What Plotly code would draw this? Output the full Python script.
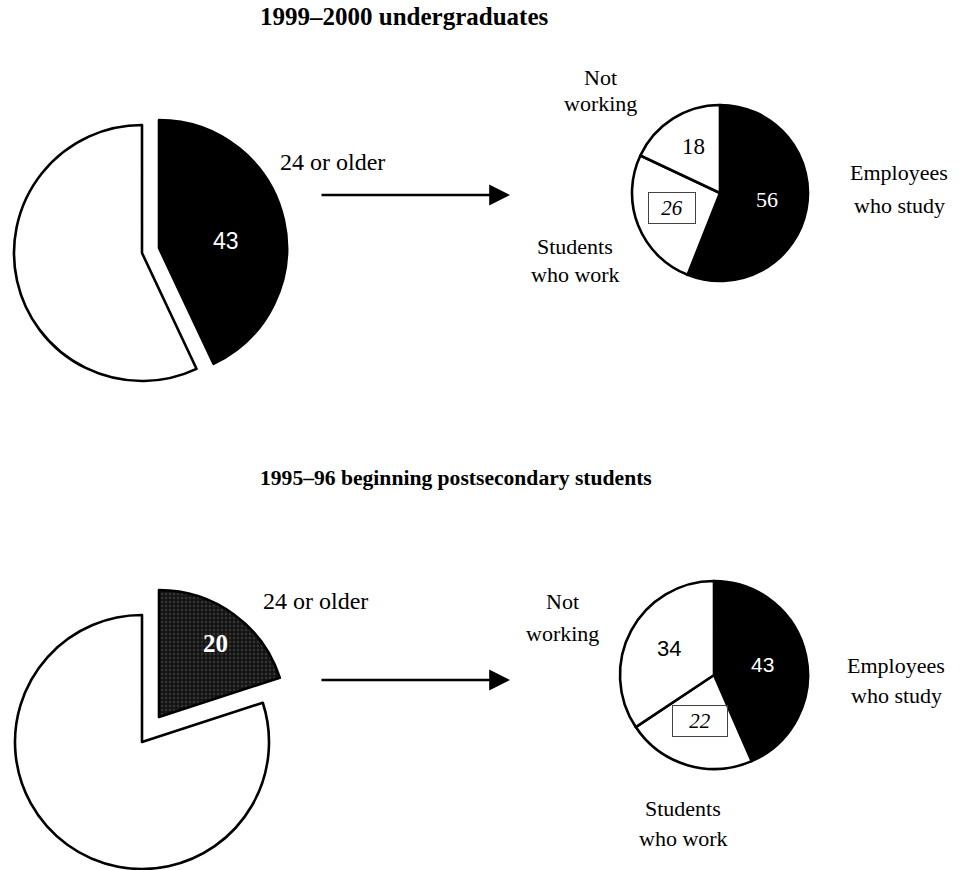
import plotly.graph_objects as go

W, H = 962, 870

# ---- data ----
age_labels = ["24 or older", "Younger than 24"]
age_1999 = [43, 57]
age_1995 = [20, 80]

work_labels = ["Employees who study", "Students who work", "Not working"]
work_1999 = [56, 26, 18]
work_1995 = [43, 22, 34]

title_1999 = "1999\u20132000 undergraduates"
title_1995 = "1995\u201396 beginning postsecondary students"

SERIF = "Liberation Serif"
SANS = "Liberation Sans"
CLEAR = "rgba(0,0,0,0)"
LW = 2.6


def dom(cx, cy, r):
    return dict(x=[(cx - r) / W, (cx + r) / W],
                y=[(H - (cy + r)) / H, (H - (cy - r)) / H])


def pie(labels, values, colors, widths, cx, cy, r, pattern=None):
    marker = dict(colors=colors, line=dict(color="black", width=widths))
    if pattern is not None:
        marker["pattern"] = pattern
    return go.Pie(labels=labels, values=values, sort=False, direction="clockwise",
                  rotation=0, textinfo="none", hoverinfo="label+value",
                  marker=marker, domain=dom(cx, cy, r), showlegend=False)


fig = go.Figure()
# top-left: remaining slice and exploded "24 or older" slice
fig.add_trace(pie(age_labels, age_1999, [CLEAR, "white"], [0, LW], 142, 253, 128))
fig.add_trace(pie(age_labels, age_1999, ["black", CLEAR], [LW, 0], 159, 248, 128))
# bottom-left
fig.add_trace(pie(age_labels, age_1995, [CLEAR, "white"], [0, LW], 142, 742, 127))
fig.add_trace(pie(age_labels, age_1995, ["#141414", CLEAR], [LW, 0], 159, 717, 127,
                  pattern=dict(shape=[".", ""], fgcolor="#555555", size=4,
                               solidity=0.3, fillmode="overlay")))
# right pies
fig.add_trace(pie(work_labels, work_1999, ["black", "white", "white"], [LW] * 3, 720, 193, 88))
fig.add_trace(pie(work_labels, work_1995, ["black", "white", "white"], [LW] * 3, 714, 675, 94))

anns = []


def text(x, y, s, size=22, color="black", family=SERIF, xanchor="center", **kw):
    anns.append(dict(x=x / W, y=1 - y / H, xref="paper", yref="paper", text=s,
                     showarrow=False, xanchor=xanchor, yanchor="middle",
                     font=dict(size=size, color=color, family=family), **kw))


def lines(x, y, parts, gap=30, size=22):
    for i, p in enumerate(parts):
        text(x, y + i * gap, p, size=size)


def arrow(x0, x1, y):
    anns.append(dict(x=x1 / W, y=1 - y / H, xref="paper", yref="paper", text="",
                     showarrow=True, ax=x0 - x1, ay=0, axref="pixel", ayref="pixel",
                     arrowhead=2, arrowsize=1.6, arrowwidth=2.6, arrowcolor="black"))


def boxed(x, y, s, w, h):
    text(x, y, "<i>%s</i>" % s, size=21, bordercolor="#444", borderwidth=1,
         borderpad=0, width=w, height=h)


# titles
text(258, 17, "<b>%s</b>" % title_1999, size=25, xanchor="left")
text(258, 478, "<b>%s</b>" % title_1995, size=21.6, xanchor="left")

# slice values, left pies
text(226, 241, str(age_1999[0]), size=23, color="white", family=SANS)
text(215, 643, "<b>%d</b>" % age_1995[0], size=25, color="white")

# age labels and arrows
text(332, 162, age_labels[0], size=24)
text(315, 601, age_labels[0], size=24)
arrow(320, 510, 195)
arrow(320, 510, 680)

# top-right values
text(767, 200, str(work_1999[0]), size=22, color="white")
boxed(672, 208, str(work_1999[1]), 46, 30)
text(693, 146, str(work_1999[2]), size=23)
# bottom-right values
text(762, 664, str(work_1995[0]), size=21, color="white", family=SANS)
boxed(700, 721, str(work_1995[1]), 54, 30)
text(669, 648, str(work_1995[2]), size=22, family=SANS)

# category labels
lines(600, 77, ["Not", "working"], gap=27)
lines(899, 172, ["Employees", "who study"], gap=33)
lines(575, 246, ["Students", "who work"], gap=28)
lines(562, 601, ["Not", "working"], gap=32)
lines(896, 665, ["Employees", "who study"], gap=30)
lines(683, 808, ["Students", "who work"], gap=30)

fig.update_layout(width=W, height=H, margin=dict(l=0, r=0, t=0, b=0),
                  paper_bgcolor="white", plot_bgcolor="white", annotations=anns)

fig.write_html("out.html", config={"displayModeBar": False},
               post_script="document.body.style.margin='0';"
                           "document.body.style.overflow='hidden';")
